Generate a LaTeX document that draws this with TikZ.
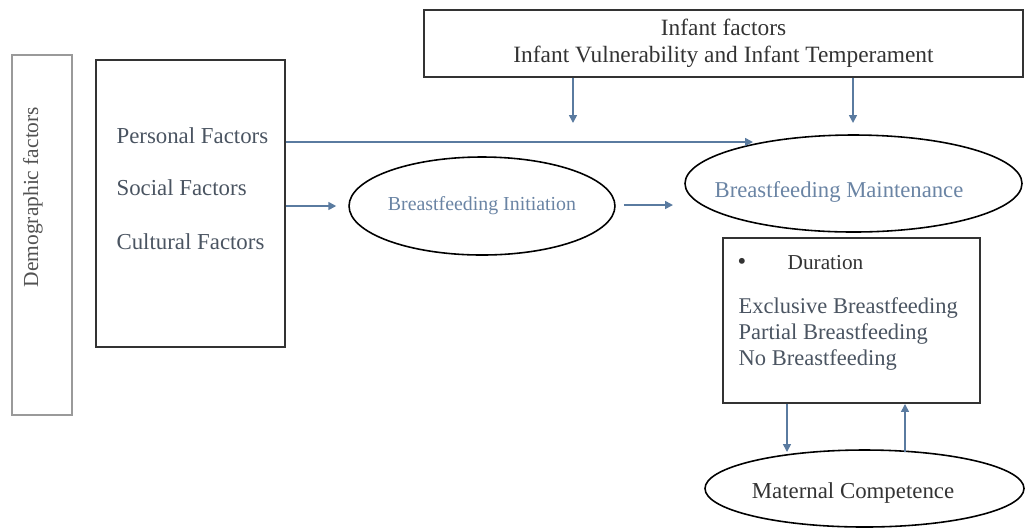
\documentclass[tikz,border=0pt]{standalone}
\usepackage{fontspec}
\setmainfont{Liberation Serif}
\usetikzlibrary{positioning,shapes.geometric,arrows.meta}

\definecolor{linkblue}{HTML}{5A7BA0}
\definecolor{softblue}{HTML}{6A84A4}
\definecolor{slate}{HTML}{4A5461}
\definecolor{inkgray}{HTML}{333333}
\definecolor{framegray}{HTML}{9A9A9A}

\begin{document}
\begin{tikzpicture}[thick,
    box/.style = {draw=inkgray, line width=1.1pt, rectangle, inner sep=0pt},
    oval/.style = {draw=black, line width=0.9pt, ellipse, inner sep=0pt},
    link/.style = {linkblue, line width=0.9pt, -{Triangle[length=4.5pt,width=4.5pt]}},
    big/.style = {font=\fontsize{13}{15}\selectfont}]%
    \useasboundingbox (0,0) rectangle (20.52,-10.58);
    % boxes and ellipses
    \node (demo) [box, draw=framegray, minimum width=1.2cm, minimum height=7.2cm] at (0.84,-4.7) {};
    \node (demotext) [rotate=90, text=inkgray!85, font=\fontsize{12.2}{14}\selectfont] at (0.66,-3.94) {Demographic factors};
    \node (factors) [box, minimum width=3.78cm, minimum height=5.74cm] at (3.81,-4.07) {};
    \node (personal) [big, text=slate, anchor=west] at (2.2,-2.72) {Personal Factors};
    \node (social) [big, text=slate, anchor=west] at (2.2,-3.76) {Social Factors};
    \node (cultural) [big, text=slate, anchor=west] at (2.2,-4.84) {Cultural Factors};
    \node (infant) [box, minimum width=11.98cm, minimum height=1.34cm, align=center, text=inkgray,
        font=\fontsize{13.3}{15.5}\selectfont] at (14.47,-0.87)
        {Infant factors\\Infant Vulnerability and Infant Temperament};
    \node (init) [oval, minimum width=5.2cm, minimum height=1.96cm, text=softblue,
        font=\fontsize{11.3}{13}\selectfont] at (9.64,-4.12) {Breastfeeding Initiation};
    \node (maint) [oval, minimum width=6.74cm, minimum height=1.94cm] at (17.07,-3.67) {};
    \node (mainttext) [text=softblue, font=\fontsize{12.9}{15}\selectfont] at (16.78,-3.84) {Breastfeeding Maintenance};
    \node (duration) [box, minimum width=5.14cm, minimum height=3.3cm] at (17.03,-6.41) {};
    \node (bullet) [text=inkgray, font=\fontsize{14}{16}\selectfont] at (14.84,-5.28) {\textbullet};
    \node (durtext) [text=inkgray, anchor=west, inner sep=0pt, font=\fontsize{12.1}{14}\selectfont] at (15.74,-5.26) {Duration};
    \node (kinds) [text=slate, anchor=west, align=left, inner sep=0pt,
        font=\fontsize{12.8}{14.8}\selectfont] at (14.76,-6.68)
        {Exclusive Breastfeeding\\Partial Breastfeeding\\No Breastfeeding};
    \node (maternal) [oval, minimum width=6.38cm, minimum height=1.54cm] at (17.29,-9.77) {};
    \node (mattext) [big, text=inkgray] at (17.06,-9.86) {Maternal Competence};
    % free arrow ends
    \coordinate (infantend1) at (11.46,-2.46);
    \coordinate (infantend2) at (17.06,-2.46);
    \coordinate (personalend) at (15.06,-2.84);
    \coordinate (initend) at (13.46,-4.1);
    \coordinate (downend) at (15.74,-9.04);
    \coordinate (upstart) at (18.1,-9.04);
    % connectors
    \draw[link] (infant.south -| infantend1) -- (infantend1);
    \draw[link] (infant.south -| infantend2) -- (infantend2);
    \draw[link] (factors.east |- personalend) -- (personalend);
    \draw[link, shorten >=0.24cm] (factors.east |- init.west) -- (init.west);
    \draw[link, shorten <=0.16cm] (init.east |- initend) -- (initend);
    \draw[link] (duration.south -| downend) -- (downend);
    \draw[link] (upstart) -- (duration.south -| upstart);
\end{tikzpicture}
\end{document}
